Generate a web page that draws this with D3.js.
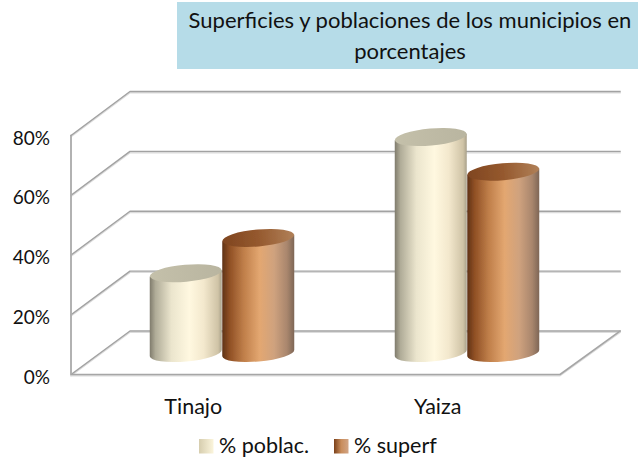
<!DOCTYPE html>
<html><head><meta charset="utf-8">
<script src="https://cdnjs.cloudflare.com/ajax/libs/d3/7.8.5/d3.min.js"></script>
<style>html,body{margin:0;padding:0;background:#fff}svg{display:block}text{font-family:Lato,"Open Sans",sans-serif;fill:#111}</style>
</head><body><div id="c"></div>
<script>
const titleLines = ["Superficies y poblaciones de los municipios en", "porcentajes"];
const categories = ["Tinajo", "Yaiza"];
const series = ["% poblac.", "% superf"];
const poblac = [26.7, 72.3];
const superf = [38.5, 60.7];
const ticks = [0, 20, 40, 60, 80];
const values = [poblac, superf];

const W = 638, H = 461;
const svg = d3.select("#c").append("svg").attr("width", W).attr("height", H);
const defs = svg.append("defs");
function grad(id, stops) {
  const g = defs.append("linearGradient").attr("id", id).attr("x1", 0).attr("x2", 1).attr("y1", 0).attr("y2", 0);
  stops.forEach(s => g.append("stop").attr("offset", s[0]).attr("stop-color", s[1]));
}
grad("g0", [[0, "#7f7b6c"], [0.08, "#b0ac98"], [0.3, "#ebe5cd"], [0.55, "#fff8e0"], [0.75, "#f3e8cd"], [0.95, "#cfc3a6"], [1, "#a8a08a"]]);
grad("g1", [[0, "#5f3216"], [0.1, "#8f4f24"], [0.3, "#c07f4a"], [0.52, "#e3a771"], [0.72, "#cfa27e"], [0.9, "#a9866d"], [1, "#7e6656"]]);
grad("t0", [[0, "#c4c0aa"], [1, "#b9b5a0"]]);
grad("t1", [[0, "#7f4520"], [0.5, "#95592e"], [1, "#b08058"]]);
grad("l0", [[0, "#d6cdae"], [1, "#fbf5dc"]]);
grad("l1", [[0, "#7a4019"], [0.5, "#c98d5c"], [1, "#d2a585"]]);
defs.append("filter").attr("id", "soft").attr("x", "-5%").attr("y", "-5%").attr("width", "110%").attr("height", "110%")
  .append("feGaussianBlur").attr("stdDeviation", 0.6);

// title
svg.append("rect").attr("x", 177).attr("y", 2).attr("width", 461).attr("height", 67).attr("fill", "#b6dce8");
svg.selectAll("text.title").data(titleLines).join("text").attr("class", "title")
  .attr("x", 410).attr("y", (d, i) => 28 + i * 31).attr("text-anchor", "middle").attr("font-size", 22).text(d => d);

// scales
const yFront = d3.scaleLinear().domain([0, 80]).range([374.5, 135.5]);
const yBack = d3.scaleLinear().domain([0, 80]).range([331, 91.5]);
const yMid = d3.scaleLinear().domain([0, 80]).range([353, 114]);
const xFront = d3.scaleBand().domain(categories).range([71, 560]);
const xMid = d3.scaleBand().domain(categories).range([100, 590]);
const xSeries = d3.scaleBand().domain(series).range([-73, 72]);
const bw = 72, ry = 8.5, tilt = -5;
const bx = (ci, si) => xMid(categories[ci]) + xMid.bandwidth() / 2 + xSeries(series[si]) + xSeries.bandwidth() / 2;

// walls
const grid = svg.append("g").attr("fill", "none").attr("stroke-linecap", "square");
function gridLine(d, stroke, w, dy) {
  return grid.append("path").attr("stroke", stroke).attr("stroke-width", w).attr("stroke-linejoin", "round")
    .attr("transform", `translate(0,${dy})`).attr("d", d);
}
const lineD = d3.line();
ticks.forEach(t => {
  const pts = [[71, yFront(t)], [130, yBack(t)], [620, yBack(t)]];
  gridLine(lineD(pts), "#dcdcdc", 1.6, 1.2);
  gridLine(lineD(pts), "#a2a2a2", 1.4, 0);
});
const edges = [
  [[71, yFront(80)], [71, yFront(0)], [560, yFront(0)], [620, yBack(0)]]
];
edges.forEach(p => { gridLine(lineD(p), "#dcdcdc", 1.6, 1.2); gridLine(lineD(p), "#a6a6a6", 1.6, 0); });

// y axis labels
svg.append("g").attr("transform", "translate(50,0)")
  .call(d3.axisLeft(yFront).tickValues(ticks).tickSize(0).tickPadding(0).tickFormat(d => d + "%"))
  .call(g => g.select(".domain").remove())
  .call(g => g.selectAll("text").attr("font-size", 19).attr("font-family", "Lato").attr("fill", "#111").attr("dy", "0.45em"));

// x axis labels
svg.append("g").attr("transform", "translate(0,414)")
  .call(d3.axisBottom(xFront).tickSize(0).tickPadding(0))
  .call(g => g.select(".domain").remove())
  .call(g => g.selectAll("text").attr("font-size", 21.5).attr("font-family", "Lato").attr("fill", "#111").attr("y", 0).attr("dy", 0));

// cylinders
const bars = svg.append("g").attr("filter", "url(#soft)");
const flat = [];
series.forEach((s, si) => categories.forEach((c, ci) => flat.push({ si, ci, v: values[si][ci] })));
const tan = Math.tan(tilt * Math.PI / 180);
function bodyPath(d) {
  const c = bx(d.ci, d.si), rx = bw / 2;
  const yb = yMid(0), yt = yMid(d.v);
  const lb = yb - rx * tan, rb = yb + rx * tan, lt = yt - rx * tan, rt = yt + rx * tan;
  return `M${c - rx},${lt} L${c - rx},${lb} A${rx},${ry} ${tilt} 0 0 ${c + rx},${rb} L${c + rx},${rt} Z`;
}
flat.sort((a, b) => a.si - b.si);
bars.selectAll("path.body").data(flat).join("path").attr("class", "body")
  .attr("fill", d => `url(#g${d.si})`).attr("d", bodyPath);
bars.selectAll("ellipse.top").data(flat).join("ellipse").attr("class", "top")
  .attr("cx", 0).attr("cy", 0).attr("rx", bw / 2).attr("ry", ry)
  .attr("transform", d => `translate(${bx(d.ci, d.si)},${yMid(d.v)}) rotate(${tilt})`)
  .attr("fill", d => `url(#t${d.si})`);

// legend
const legendX = [199, 334], legendTextX = [219, 354];
const leg = svg.selectAll("g.leg").data(series).join("g").attr("class", "leg");
leg.append("rect").attr("x", (d, i) => legendX[i]).attr("y", 439).attr("width", 14.5).attr("height", 14.5).attr("fill", (d, i) => `url(#l${i})`);
leg.append("text").attr("x", (d, i) => legendTextX[i]).attr("y", 453).attr("font-size", 21.5).text(d => d);
</script></body></html>
